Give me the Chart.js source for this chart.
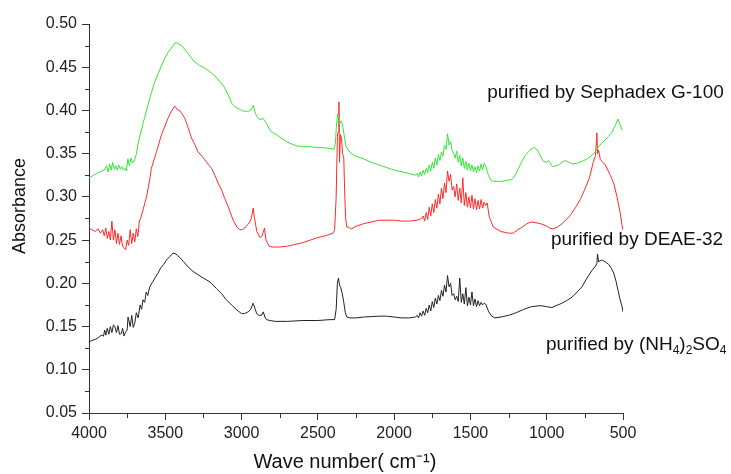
<!DOCTYPE html>
<html>
<head>
<meta charset="utf-8">
<script src="https://cdn.jsdelivr.net/npm/chart.js@4.4.1/dist/chart.umd.min.js"></script>
<style>
    html, body { margin: 0; padding: 0; background: #fff; }
    #wrap { width: 731px; height: 474px; }
</style>
</head>
<body>
<div id="wrap"><canvas id="ftir-chart" width="731" height="474"></canvas></div>
<script>
// wave numbers (cm-1) and absorbance, one pair of arrays per sample
const sephadexWave = [
    4000,3970,3940,3915,3900,3885,3875,3865,3855,3845,
    3835,3825,3815,3805,3795,3785,3775,3765,3755,3745,
    3735,3725,3715,3700,3689,3678,3660,3646,3630,3613,
    3590,3569,3545,3525,3500,3483,3460,3437,3420,3392,
    3370,3352,3330,3306,3275,3241,3210,3175,3140,3110,
    3085,3064,3040,3020,3000,2978,2960,2944,2930,2923,
    2912,2900,2880,2860,2848,2837,2814,2790,2771,2740,
    2705,2670,2637,2600,2550,2500,2465,2420,2395,2385,
    2378,2370,2362,2355,2345,2335,2325,2315,2300,2280,
    2250,2200,2150,2100,2050,2000,1950,1900,1860,1850,
    1840,1830,1820,1810,1800,1790,1780,1770,1760,1750,
    1740,1730,1720,1710,1700,1690,1680,1670,1660,1650,
    1640,1630,1620,1610,1600,1590,1580,1570,1560,1550,
    1540,1530,1520,1510,1500,1490,1480,1470,1460,1450,
    1440,1430,1420,1410,1400,1382,1365,1349,1294,1228,
    1200,1185,1160,1141,1110,1086,1070,1054,1035,1021,
    1000,988,975,962,940,922,900,878,855,834,
    800,769,735,703,680,660,640,616,595,572,
    550,533,525,518,505
];
const sephadexAbs = [
    0.322,0.325,0.328,0.330,0.331,0.336,0.329,0.338,0.331,0.340,
    0.332,0.336,0.331,0.337,0.332,0.335,0.331,0.333,0.330,0.344,
    0.336,0.345,0.339,0.343,0.350,0.362,0.375,0.385,0.395,0.407,
    0.421,0.433,0.443,0.452,0.461,0.467,0.472,0.478,0.478,0.475,
    0.470,0.466,0.461,0.456,0.452,0.449,0.445,0.440,0.433,0.426,
    0.417,0.408,0.404,0.402,0.400,0.399,0.399,0.400,0.403,0.406,
    0.398,0.393,0.389,0.391,0.388,0.385,0.377,0.374,0.372,0.368,
    0.364,0.361,0.359,0.358,0.358,0.357,0.357,0.356,0.355,0.362,
    0.383,0.396,0.390,0.385,0.388,0.380,0.368,0.358,0.354,0.350,
    0.347,0.344,0.340,0.337,0.334,0.331,0.329,0.327,0.325,0.327,
    0.323,0.329,0.324,0.331,0.326,0.333,0.328,0.337,0.330,0.340,
    0.333,0.345,0.337,0.349,0.342,0.352,0.347,0.360,0.355,0.373,
    0.360,0.364,0.354,0.350,0.345,0.353,0.340,0.348,0.336,0.345,
    0.333,0.341,0.331,0.339,0.330,0.337,0.329,0.335,0.328,0.336,
    0.330,0.338,0.331,0.339,0.336,0.325,0.319,0.318,0.318,0.320,
    0.327,0.333,0.342,0.348,0.354,0.357,0.356,0.352,0.345,0.341,
    0.340,0.342,0.339,0.335,0.336,0.337,0.340,0.342,0.340,0.338,
    0.339,0.341,0.344,0.348,0.353,0.358,0.362,0.366,0.370,0.375,
    0.383,0.390,0.386,0.383,0.377
];

const deaeWave = [
    4000,3980,3960,3940,3925,3910,3900,3890,3880,3870,
    3860,3850,3840,3830,3820,3810,3800,3790,3780,3770,
    3760,3750,3740,3730,3720,3710,3700,3690,3680,3670,
    3660,3646,3623,3602,3591,3558,3525,3500,3482,3460,
    3438,3420,3405,3390,3372,3350,3328,3305,3285,3260,
    3241,3220,3197,3175,3154,3131,3110,3088,3070,3055,
    3030,3011,2995,2978,2960,2946,2935,2924,2915,2900,
    2880,2865,2850,2840,2820,2800,2750,2700,2650,2600,
    2550,2500,2450,2400,2390,2380,2372,2366,2362,2358,
    2352,2345,2338,2330,2325,2318,2310,2300,2280,2250,
    2200,2150,2100,2050,2000,1950,1900,1850,1820,1810,
    1800,1790,1780,1770,1760,1750,1740,1730,1720,1710,
    1700,1690,1680,1670,1660,1650,1640,1630,1620,1610,
    1600,1590,1580,1570,1560,1550,1540,1530,1520,1510,
    1500,1490,1480,1470,1460,1450,1440,1430,1420,1410,
    1400,1390,1377,1350,1300,1250,1220,1190,1160,1130,
    1100,1070,1040,1010,980,960,930,900,870,840,
    810,780,750,720,695,680,671,667,660,648,
    616,583,561,539,518,502
];
const deaeAbs = [
    0.264,0.262,0.260,0.263,0.258,0.262,0.255,0.264,0.252,0.260,
    0.250,0.272,0.250,0.262,0.246,0.258,0.245,0.255,0.243,0.241,
    0.239,0.250,0.244,0.262,0.246,0.258,0.248,0.263,0.254,0.272,
    0.276,0.285,0.300,0.320,0.333,0.352,0.372,0.383,0.391,0.399,
    0.405,0.401,0.400,0.396,0.391,0.380,0.368,0.360,0.352,0.347,
    0.343,0.338,0.333,0.325,0.316,0.308,0.298,0.289,0.280,0.273,
    0.265,0.262,0.262,0.264,0.268,0.271,0.276,0.287,0.275,0.260,
    0.253,0.255,0.264,0.250,0.243,0.242,0.242,0.243,0.245,0.247,
    0.250,0.253,0.255,0.258,0.262,0.300,0.370,0.376,0.410,0.340,
    0.372,0.368,0.350,0.345,0.310,0.275,0.265,0.265,0.263,0.266,
    0.269,0.271,0.273,0.273,0.273,0.272,0.272,0.273,0.275,0.278,
    0.272,0.282,0.274,0.288,0.278,0.292,0.282,0.297,0.287,0.303,
    0.292,0.310,0.298,0.316,0.305,0.330,0.318,0.326,0.308,0.312,
    0.300,0.315,0.296,0.310,0.293,0.322,0.290,0.305,0.288,0.300,
    0.287,0.302,0.286,0.298,0.285,0.296,0.286,0.297,0.287,0.294,
    0.290,0.293,0.277,0.265,0.260,0.258,0.258,0.262,0.265,0.269,
    0.271,0.270,0.269,0.267,0.264,0.263,0.265,0.269,0.274,0.280,
    0.288,0.297,0.309,0.322,0.340,0.348,0.374,0.350,0.354,0.343,
    0.337,0.325,0.316,0.300,0.281,0.262
];

const ammoniumWave = [
    4000,3980,3960,3940,3920,3905,3897,3890,3880,3870,
    3860,3850,3840,3831,3820,3810,3800,3787,3780,3770,
    3760,3750,3744,3730,3720,3710,3700,3690,3678,3665,
    3655,3646,3635,3625,3615,3602,3585,3565,3547,3530,
    3510,3492,3470,3449,3430,3420,3405,3380,3350,3320,
    3285,3250,3220,3197,3165,3131,3100,3066,3030,3000,
    2980,2957,2940,2924,2912,2901,2885,2869,2858,2845,
    2836,2815,2780,2700,2600,2500,2420,2390,2380,2372,
    2365,2358,2350,2340,2330,2320,2310,2290,2250,2200,
    2100,2050,2000,1950,1900,1860,1850,1840,1830,1820,
    1810,1800,1790,1780,1770,1760,1750,1740,1730,1720,
    1710,1700,1690,1680,1670,1660,1650,1640,1630,1620,
    1610,1600,1590,1580,1570,1560,1550,1540,1530,1520,
    1510,1500,1490,1480,1470,1460,1450,1440,1430,1420,
    1410,1400,1380,1360,1340,1300,1250,1200,1150,1100,
    1050,1031,1000,966,940,900,870,834,800,769,
    740,703,680,671,667,660,640,627,610,594,
    575,561,545,533,520,506,500
];
const ammoniumAbs = [
    0.132,0.134,0.135,0.137,0.140,0.139,0.146,0.140,0.148,0.141,
    0.150,0.143,0.152,0.150,0.143,0.151,0.141,0.142,0.148,0.139,
    0.144,0.146,0.161,0.150,0.163,0.149,0.154,0.166,0.160,0.175,
    0.170,0.181,0.178,0.190,0.186,0.196,0.201,0.207,0.212,0.218,
    0.222,0.227,0.231,0.235,0.234,0.232,0.230,0.225,0.219,0.214,
    0.210,0.206,0.203,0.200,0.194,0.188,0.181,0.175,0.169,0.165,
    0.165,0.167,0.170,0.177,0.171,0.165,0.163,0.163,0.167,0.160,
    0.158,0.157,0.156,0.156,0.157,0.157,0.158,0.158,0.170,0.200,
    0.206,0.198,0.195,0.188,0.178,0.166,0.161,0.160,0.160,0.161,
    0.162,0.162,0.161,0.160,0.160,0.161,0.163,0.160,0.166,0.162,
    0.168,0.163,0.171,0.166,0.175,0.168,0.179,0.172,0.183,0.176,
    0.186,0.180,0.192,0.185,0.198,0.190,0.209,0.196,0.200,0.186,
    0.188,0.181,0.185,0.179,0.206,0.178,0.188,0.176,0.195,0.174,
    0.184,0.175,0.190,0.174,0.182,0.173,0.180,0.174,0.178,0.175,
    0.177,0.176,0.167,0.162,0.160,0.161,0.163,0.166,0.170,0.173,
    0.174,0.174,0.173,0.172,0.174,0.177,0.180,0.184,0.190,0.196,
    0.205,0.215,0.220,0.223,0.234,0.225,0.227,0.226,0.224,0.222,
    0.217,0.212,0.202,0.192,0.182,0.173,0.167
];

// curve labels, anchored (left edge, middle) at a wave number / absorbance
const noteTexts = ['purified by Sephadex G-100', 'purified by DEAE-32', 'purified by (NH_4)_2SO_4'];
const noteWave = [1390, 972, 1005];
const noteAbs = [0.421, 0.250, 0.129];

const xMinorTicks = [3750, 3250, 2750, 2250, 1750, 1250, 750];
const yMinorTicks = [0.075, 0.125, 0.175, 0.225, 0.275, 0.325, 0.375, 0.425, 0.475];

const FONT = '"Liberation Sans", Arial, Helvetica, sans-serif';

function toPoints(waves, values)
{
    let points = [];
    for( let i = 0; i < waves.length; i++ )
    {
        points.push( { x: waves[i], y: values[i] } );
    }
    return points;
}

const minorTicksPlugin = {
    id: 'minorTicks',
    afterDraw(chart) {
        const ctx = chart.ctx;
        const area = chart.chartArea;
        ctx.save();
        ctx.strokeStyle = '#333';
        ctx.lineWidth = 1;
        ctx.beginPath();
        xMinorTicks.forEach( v => {
            const px = Math.round( chart.scales.x.getPixelForValue(v) ) + 0.5;
            ctx.moveTo( px, area.bottom );
            ctx.lineTo( px, area.bottom + 5 );
        });
        yMinorTicks.forEach( v => {
            const py = Math.round( chart.scales.y.getPixelForValue(v) ) + 0.5;
            ctx.moveTo( area.left - 4, py );
            ctx.lineTo( area.left, py );
        });
        ctx.stroke();
        ctx.restore();
    }
};

// draws "_x" as a subscript character
const notesPlugin = {
    id: 'notes',
    afterDatasetsDraw(chart) {
        const ctx = chart.ctx;
        ctx.save();
        ctx.fillStyle = '#111';
        ctx.textBaseline = 'middle';
        ctx.textAlign = 'left';
        for( let i = 0; i < noteTexts.length; i++ )
        {
            let x = chart.scales.x.getPixelForValue( noteWave[i] );
            const y = chart.scales.y.getPixelForValue( noteAbs[i] );
            const parts = noteTexts[i].split('_');
            parts.forEach( (part, k) => {
                let normal = part;
                if( k > 0 )
                {
                    ctx.font = '12px ' + FONT;
                    ctx.fillText( part[0], x, y + 6 );
                    x += ctx.measureText( part[0] ).width;
                    normal = part.slice(1);
                }
                ctx.font = '19px ' + FONT;
                ctx.fillText( normal, x, y );
                x += ctx.measureText( normal ).width;
            });
        }
        ctx.restore();
    }
};

function makeDataset(waves, values, color)
{
    return {
        data: toPoints( waves, values ),
        borderColor: color,
        borderWidth: 1,
        pointRadius: 0,
        tension: 0,
        fill: false
    };
}

document.addEventListener('DOMContentLoaded', function(){

    const ctx = document.getElementById('ftir-chart').getContext('2d');
    new Chart( ctx, {
        type: 'line',
        data: {
            datasets: [
                makeDataset( sephadexWave, sephadexAbs, '#35e635' ),
                makeDataset( deaeWave, deaeAbs, '#ff2a2a' ),
                makeDataset( ammoniumWave, ammoniumAbs, '#222222' )
            ]
        },
        options: {
            responsive: false,
            animation: false,
            devicePixelRatio: 1,
            layout: { padding: { top: 24, right: 108, left: 0, bottom: 0 } },
            plugins: {
                legend: { display: false },
                tooltip: { enabled: false }
            },
            scales: {
                x: {
                    type: 'linear',
                    reverse: true,
                    min: 500,
                    max: 4000,
                    afterFit: scale => { scale.height = 61; },
                    ticks: {
                        stepSize: 500,
                        autoSkip: false,
                        maxRotation: 0,
                        padding: 4,
                        color: '#222',
                        font: { family: FONT, size: 16 },
                        callback: v => String(v)
                    },
                    grid: { drawOnChartArea: false, tickLength: 7, tickColor: '#333' },
                    border: { color: '#333', width: 1 },
                    title: {
                        display: true,
                        // trailing spaces nudge the centred title towards the origin, as in the figure
                        text: 'Wave number( cm\u207B\u00B9)    ',
                        color: '#111',
                        font: { family: FONT, size: 20 },
                        padding: { top: 0, bottom: 0 }
                    }
                },
                y: {
                    min: 0.05,
                    max: 0.5,
                    afterFit: scale => { scale.width = 89; },
                    ticks: {
                        stepSize: 0.05,
                        padding: 5,
                        color: '#222',
                        font: { family: FONT, size: 16 },
                        callback: v => v.toFixed(2)
                    },
                    grid: { drawOnChartArea: false, tickLength: 7, tickColor: '#333' },
                    border: { color: '#333', width: 1 },
                    title: {
                        display: true,
                        text: '     Absorbance',
                        color: '#111',
                        font: { family: FONT, size: 18 },
                        padding: { top: 9, bottom: 0 }
                    }
                }
            }
        },
        plugins: [ minorTicksPlugin, notesPlugin ]
    });

});
</script>
</body>
</html>
